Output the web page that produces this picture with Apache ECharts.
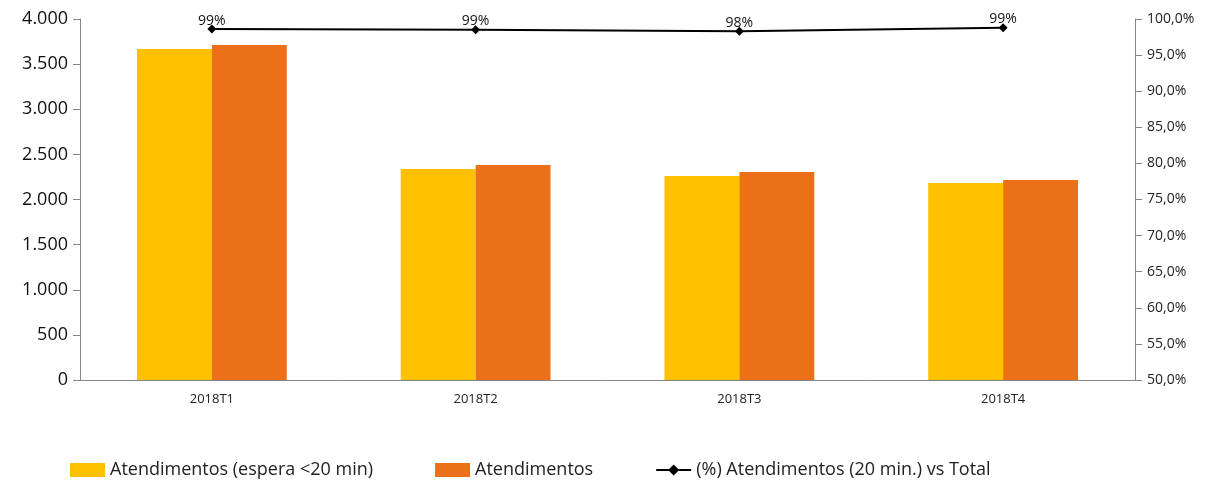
<!DOCTYPE html>
<html>
<head>
<meta charset="utf-8">
<script src="https://cdn.jsdelivr.net/npm/echarts@6/dist/echarts.min.js"></script>
<style>
  html, body { margin: 0; padding: 0; background: #fff; }
  #chart { width: 1211px; height: 480px; }
</style>
</head>
<body>
<div id="chart"></div>
<script>
const categories = ['2018T1', '2018T2', '2018T3', '2018T4'];
const atendEspera = [3668, 2338, 2260, 2183];
const atendTotal = [3712, 2382, 2305, 2216];
const percent = [98.6, 98.5, 98.3, 98.8];
const percentLabels = ['99%', '99%', '98%', '99%'];

const font = '"Open Sans", "Liberation Sans", sans-serif';
const axisGray = '#868686';

// 3.500 style thousands separator
const fmtThousands = v => String(v).replace(/\B(?=(\d{3})+(?!\d))/g, '.');

const chart = echarts.init(document.getElementById('chart'));

chart.setOption({
  animation: false,
  textStyle: {fontFamily: font},
  grid: {left: 80, right: 76, top: 19, bottom: 100},
  legend: {
    left: 65,
    top: 456,
    itemGap: 62,
    itemWidth: 35,
    itemHeight: 14,
    textStyle: {fontSize: 18, color: '#222', fontFamily: font},
    data: [
      {name: 'Atendimentos (espera <20 min)', icon: 'rect'},
      {name: 'Atendimentos', icon: 'rect'},
      {name: '(%) Atendimentos (20 min.) vs Total'}
    ]
  },
  xAxis: {
    type: 'category',
    data: categories,
    axisLine: {lineStyle: {color: axisGray}},
    axisTick: {show: false},
    axisLabel: {fontSize: 13, color: '#222', margin: 13}
  },
  yAxis: [
    {
      type: 'value',
      min: 0,
      max: 4000,
      interval: 500,
      splitLine: {show: false},
      axisLine: {show: true, lineStyle: {color: axisGray}},
      axisTick: {show: true, length: 7, lineStyle: {color: axisGray}},
      axisLabel: {fontSize: 18, color: '#111', margin: 12, formatter: fmtThousands}
    },
    {
      type: 'value',
      min: 50,
      max: 100,
      interval: 5,
      position: 'right',
      splitLine: {show: false},
      axisLine: {show: true, lineStyle: {color: axisGray}},
      axisTick: {show: true, length: 7, lineStyle: {color: axisGray}},
      axisLabel: {
        fontSize: 14, color: '#222', margin: 12,
        formatter: v => v.toFixed(1).replace('.', ',') + '%'
      }
    }
  ],
  series: [
    {
      name: 'Atendimentos (espera <20 min)',
      type: 'bar',
      data: atendEspera,
      barWidth: '28.4%',
      barGap: '0%',
      itemStyle: {color: '#FFC000'}
    },
    {
      name: 'Atendimentos',
      type: 'bar',
      data: atendTotal,
      barWidth: '28.4%',
      itemStyle: {color: '#EC7019'}
    },
    {
      name: '(%) Atendimentos (20 min.) vs Total',
      type: 'line',
      yAxisIndex: 1,
      data: percent,
      symbol: 'diamond',
      symbolSize: 9,
      lineStyle: {color: '#000', width: 2},
      itemStyle: {color: '#000'},
      label: {
        show: true,
        position: 'top',
        distance: -3,
        fontSize: 14,
        color: '#111',
        formatter: p => percentLabels[p.dataIndex]
      }
    }
  ]
});
</script>
</body>
</html>
